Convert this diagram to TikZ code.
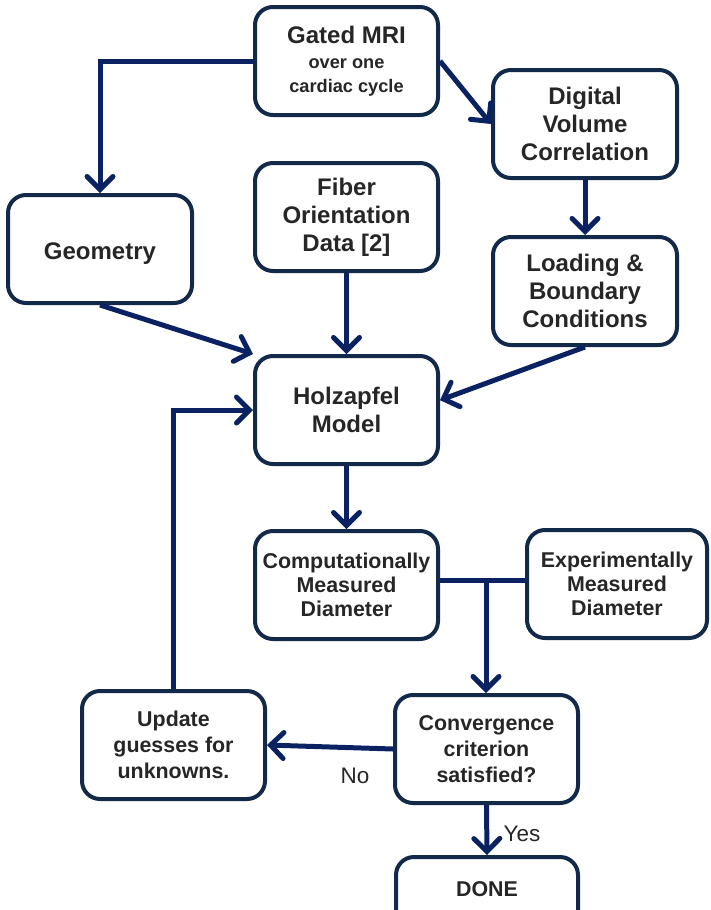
\documentclass[tikz,border=0pt]{standalone}
\usepackage{fontspec}
\setmainfont{Liberation Sans}
\usetikzlibrary{arrows.meta}
\definecolor{navy}{HTML}{0B2262}
\definecolor{boxline}{HTML}{12294A}
\definecolor{txt}{HTML}{262626}
\newcommand{\smallfs}{\fontsize{18.2}{21}\selectfont}
\begin{document}
\begin{tikzpicture}[x=1pt,y=-1pt,
  box/.style={draw=boxline, line width=4pt, rounded corners=18pt, fill=white,
    text=txt, align=center, font=\bfseries\fontsize{24}{28}\selectfont,
    minimum width=183pt, minimum height=108pt, inner sep=2pt},
  sbox/.style={box, font=\bfseries\fontsize{21.4}{24}\selectfont},
  tbox/.style={box, font=\bfseries\fontsize{21.4}{26}\selectfont},
  arr/.style={draw=navy, line width=5pt,
    -{Straight Barb[length=13pt,width=26pt,line cap=round]}},
  conn/.style={draw=navy, line width=5pt},
  lab/.style={text=txt, font=\fontsize{22.5}{26}\selectfont, inner sep=0pt}]
\useasboundingbox (0,0) rectangle (710,910);
\clip (0,0) rectangle (710,910);
\node[box] (mri) at (346.5,61) {Gated MRI\\[-3pt]\smallfs over one\\[-4pt]\smallfs cardiac cycle};
\node[box, minimum width=184pt] (dvc) at (585,124) {Digital\\Volume\\Correlation};
\node[box, minimum width=184pt] (geo) at (100,249) {\raisebox{-2.5pt}[\height][0pt]{Geometry}};
\node[box] (fib) at (346.5,217) {Fiber\\Orientation\\Data [2]};
\node[box, minimum width=184pt] (load) at (585,291) {Loading \&\\Boundary\\Conditions};
\node[box] (holz) at (346.5,410) {Holzapfel\\Model};
\node[sbox] (comp) at (346.5,585) {Computationally\\Measured\\Diameter};
\node[sbox, minimum width=180pt] (exp) at (617,584) {Experimentally\\Measured\\Diameter};
\node[tbox] (upd) at (173.5,745) {Update\\guesses for\\unknowns.};
\node[tbox] (conv) at (486.5,749) {Convergence\\criterion\\satisfied?};
\node[tbox, minimum width=182pt] (done) at (487,911) {\raisebox{44pt}{DONE}};
\coordinate (j) at (486,580);
\draw[arr] (mri.west) -| (geo.north);
\draw[arr] (mri.east) -- (dvc.west);
\draw[arr] (dvc.south) -- (load.north);
\draw[arr] (fib.south) -- (holz.north);
\draw[arr] (geo.south) -- (holz.north west);
\draw[arr] (load.south) -- (holz.6);
\draw[arr] (holz.south) -- (comp.north);
\draw[conn] (comp.east |- j) -- (exp.west |- j);
\draw[arr] (j) -- (conv.north -| j);
\draw[arr] (conv.west) -- (upd.east);
\draw[arr] (upd.north) |- (holz.west);
\draw[arr] (conv.south) -- (done.north);
\node[lab] (no) at (355,776) {No};
\node[lab] (yes) at (522,834) {Yes};
\end{tikzpicture}
\end{document}
